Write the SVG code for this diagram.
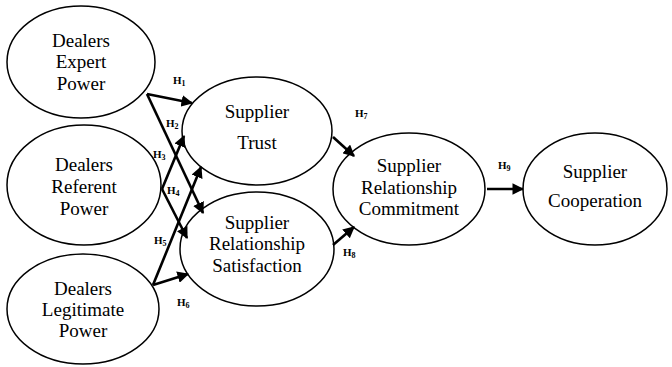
<svg xmlns="http://www.w3.org/2000/svg" width="672" height="367" viewBox="0 0 672 367">
<style>
.n ellipse{fill:#fff;stroke:#000;stroke-width:1.5}
.n text{font-size:19px;text-anchor:middle;fill:#000}
.c line{stroke:#000;stroke-width:2.6;marker-end:url(#ah)}
.h{font-size:11px;font-weight:bold;fill:#000}
.h tspan{font-size:8px}
</style>
<defs>
<marker id="ah" viewBox="0 0 10 10" refX="9" refY="5" markerWidth="4.5" markerHeight="4.5" orient="auto" markerUnits="strokeWidth">
<path d="M0,0 L10,5 L0,10 z" fill="#000"/>
</marker>
</defs>
<rect width="672" height="367" fill="#fff"/>
<g font-family="Liberation Serif, serif">
<g id="dep" class="n"><ellipse cx="81" cy="62" rx="74" ry="56"/><text x="81" y="47">Dealers</text><text x="81" y="68">Expert</text><text x="81" y="90">Power</text></g>
<g id="drp" class="n"><ellipse cx="84" cy="185" rx="77" ry="60"/><text x="84" y="171">Dealers</text><text x="84" y="193">Referent</text><text x="84" y="215">Power</text></g>
<g id="dlp" class="n"><ellipse cx="83" cy="309" rx="76" ry="55"/><text x="83" y="295">Dealers</text><text x="83" y="316">Legitimate</text><text x="83" y="337">Power</text></g>
<g id="st" class="n"><ellipse cx="257" cy="131" rx="75" ry="54"/><text x="257" y="118">Supplier</text><text x="257" y="149">Trust</text></g>
<g id="srs" class="n"><ellipse cx="257" cy="249" rx="77" ry="57"/><text x="257" y="229">Supplier</text><text x="257" y="250">Relationship</text><text x="257" y="272">Satisfaction</text></g>
<g id="src" class="n"><ellipse cx="409" cy="189" rx="76" ry="56"/><text x="409" y="172">Supplier</text><text x="409" y="194">Relationship</text><text x="409" y="215">Commitment</text></g>
<g id="sc" class="n"><ellipse cx="595" cy="189" rx="72" ry="56"/><text x="595" y="178">Supplier</text><text x="595" y="207">Cooperation</text></g>
<g id="connectors" class="c">
<line x1="147" y1="94" x2="192" y2="103"/>
<line x1="147" y1="94" x2="203" y2="213"/>
<line x1="162" y1="189" x2="184" y2="136"/>
<line x1="162" y1="189" x2="187" y2="238"/>
<line x1="153" y1="285" x2="201" y2="167"/>
<line x1="153" y1="285" x2="188" y2="274"/>
<line x1="333" y1="137" x2="354" y2="156"/>
<line x1="333" y1="245" x2="354" y2="227"/>
<line x1="487" y1="189" x2="523" y2="189"/>
</g>
<g id="labels">
<text class="h" x="173" y="84">H<tspan dy="2">1</tspan></text>
<text class="h" x="166" y="127">H<tspan dy="2">2</tspan></text>
<text class="h" x="153" y="158">H<tspan dy="2">3</tspan></text>
<text class="h" x="167" y="194">H<tspan dy="2">4</tspan></text>
<text class="h" x="154" y="244">H<tspan dy="2">5</tspan></text>
<text class="h" x="177" y="306">H<tspan dy="2">6</tspan></text>
<text class="h" x="355" y="117">H<tspan dy="2">7</tspan></text>
<text class="h" x="343" y="256">H<tspan dy="2">8</tspan></text>
<text class="h" x="498" y="169">H<tspan dy="2">9</tspan></text>
</g>
</g>
</svg>
